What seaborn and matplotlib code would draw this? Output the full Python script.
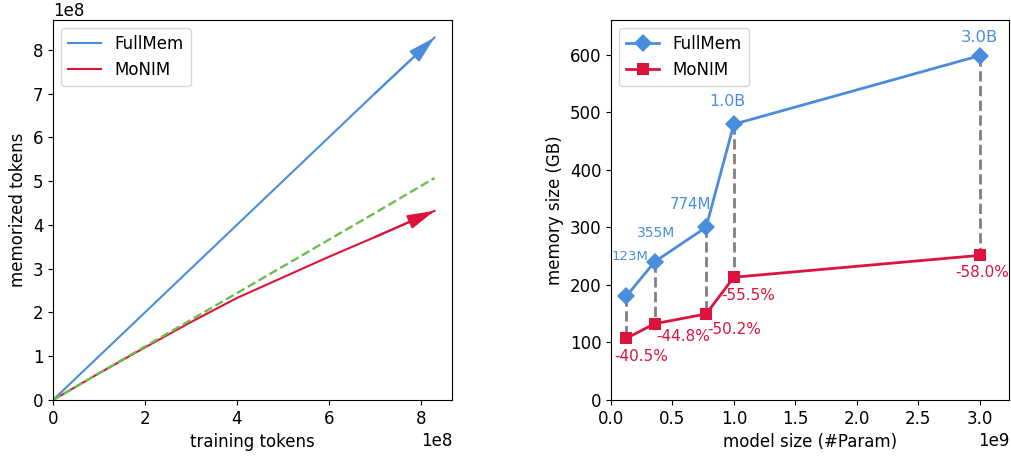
import numpy as np
import pandas as pd
import matplotlib
matplotlib.use("Agg")
import matplotlib.pyplot as plt
import seaborn as sns

plt.rcParams['font.family'] = ['DejaVu Sans']
plt.rcParams['font.size'] = 12

BLUE = '#4a8ddc'
RED = '#dc143c'
GREEN = '#6abf4b'

# left panel: memorized tokens vs training tokens
train_tokens = [0, 1e8, 2e8, 3e8, 4e8, 5e8, 6e8, 7e8, 8.3e8]
fullmem_tokens = [0, 1e8, 2e8, 3e8, 4e8, 5e8, 6e8, 7e8, 8.28e8]
monim_tokens = [0, 0.61e8, 1.2e8, 1.78e8, 2.33e8, 2.8e8, 3.27e8, 3.72e8, 4.32e8]
ref_tokens = [0, 0.61e8, 1.22e8, 1.83e8, 2.44e8, 3.05e8, 3.66e8, 4.27e8, 5.07e8]

# right panel: memory size vs model size
model_size = [0.124e9, 0.355e9, 0.774e9, 1.0e9, 3.0e9]
size_labels = ['123M', '355M', '774M', '1.0B', '3.0B']
fullmem_gb = [180, 240, 300, 479, 598]
monim_gb = [107, 132.5, 149.4, 213.2, 251.2]
reduction_labels = ['-40.5%', '-44.8%', '-50.2%', '-55.5%', '-58.0%']

# label offsets (points) and font sizes
size_offsets = [(2.7, 28.7), (1, 20.4), (-11, 16.2), (-4.4, 16.2), (0, 12.9)]
size_fonts = [9.5, 10, 10.8, 11.4, 11.8]
red_offsets = [(10.6, -12.9), (20.4, -8.9), (20, -11.4), (10.6, -12.9), (1.8, -12.5)]

left_df = pd.DataFrame({'train': train_tokens, 'FullMem': fullmem_tokens,
                        'MoNIM': monim_tokens, 'ref': ref_tokens})
right_df = pd.DataFrame({'size': model_size, 'FullMem': fullmem_gb, 'MoNIM': monim_gb})

fig = plt.figure(figsize=(10.11, 4.57), dpi=100)
ax1 = fig.add_axes([53 / 1011, 57 / 457, 399 / 1011, 380 / 457])
ax2 = fig.add_axes([611 / 1011, 57 / 457, 398 / 1011, 380 / 457])

# left
sns.lineplot(data=left_df, x='train', y='FullMem', ax=ax1, color=BLUE, lw=1.5, label='FullMem')
sns.lineplot(data=left_df, x='train', y='MoNIM', ax=ax1, color=RED, lw=1.5, label='MoNIM')
sns.lineplot(data=left_df, x='train', y='ref', ax=ax1, color=GREEN, lw=1.7, linestyle='--')
for ys, c in [(fullmem_tokens, BLUE), (monim_tokens, RED)]:
    ax1.annotate('', xy=(train_tokens[-1], ys[-1]), xytext=(train_tokens[-2], ys[-2]),
                 arrowprops=dict(arrowstyle='-|>,head_length=0.75,head_width=0.2', color=c,
                                 lw=1.5, mutation_scale=22, shrinkA=0, shrinkB=0))
ax1.set_xlim(0, 8.68e8)
ax1.set_ylim(0, 8.68e8)
ax1.set_xlabel('training tokens')
ax1.set_ylabel('memorized tokens')
ax1.legend(loc='upper left')

# right
for x, y1, y2 in zip(model_size, fullmem_gb, monim_gb):
    ax2.plot([x, x], [y1, y2], color='gray', lw=2, linestyle='--', zorder=1)
sns.lineplot(data=right_df, x='size', y='FullMem', ax=ax2, color=BLUE, lw=2,
             marker='D', markersize=9, markeredgewidth=0, label='FullMem', zorder=3)
sns.lineplot(data=right_df, x='size', y='MoNIM', ax=ax2, color=RED, lw=2,
             marker='s', markersize=9, markeredgewidth=0, label='MoNIM', zorder=3)
for x, y, t, off, fs in zip(model_size, fullmem_gb, size_labels, size_offsets, size_fonts):
    ax2.annotate(t, (x, y), xytext=off, textcoords='offset points',
                 ha='center', va='center', color=BLUE, fontsize=fs)
for x, y, t, off in zip(model_size, monim_gb, reduction_labels, red_offsets):
    ax2.annotate(t, (x, y), xytext=off, textcoords='offset points',
                 ha='center', va='center', color=RED, fontsize=11)
ax2.set_xlim(0, 3.24e9)
ax2.set_ylim(0, 660)
ax2.set_xlabel('model size (#Param)')
ax2.set_ylabel('memory size (GB)')
ax2.legend(loc='upper left')

fig.savefig('out.png', dpi=100)
